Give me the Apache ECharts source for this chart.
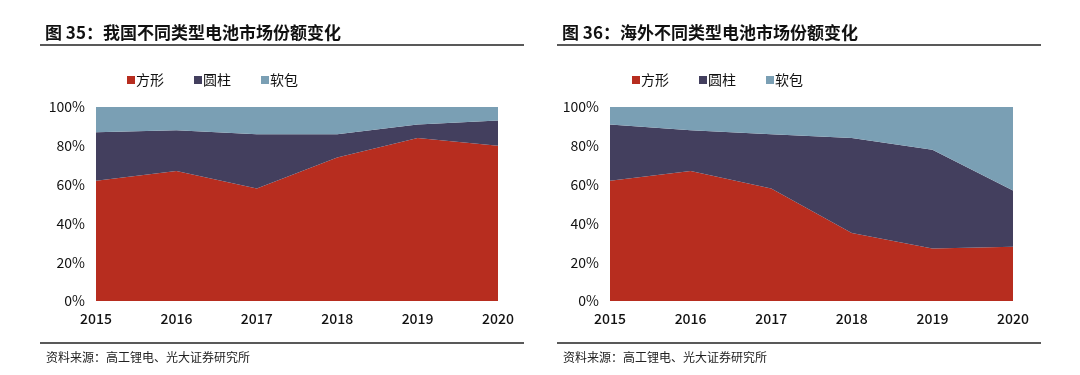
<!DOCTYPE html>
<html>
<head>
<meta charset="utf-8">
<script src="https://cdn.jsdelivr.net/npm/echarts@6/dist/echarts.min.js"></script>
<style>
  html, body { margin: 0; padding: 0; background: #fff; }
  #chart { width: 1080px; height: 375px; }
</style>
</head>
<body>
<div id="chart"></div>
<script>
// 数据
const years = ['2015', '2016', '2017', '2018', '2019', '2020'];
const seriesNames = ['方形', '圆柱', '软包'];
// 图35 我国
const cnSquare = [62, 67, 58, 74, 84, 80];
const cnCylinder = [25, 21, 28, 12, 7, 13];
const cnPouch = [13, 12, 14, 14, 9, 7];
// 图36 海外
const osSquare = [62, 67, 58, 35, 27, 28];
const osCylinder = [29, 21, 28, 49, 51, 29];
const osPouch = [9, 12, 14, 16, 22, 43];
const yTicks = [0, 20, 40, 60, 80, 100];

const colors = ['#B72D1F', '#433F5E', '#7A9FB4'];
const font = '"Noto Sans CJK SC", "Noto Sans", sans-serif';

const myChart = echarts.init(document.getElementById('chart'));

function makeSeries(idx, data) {
  return data.map((d, i) => ({
    name: seriesNames[i],
    type: 'line',
    stack: 'total' + idx,
    xAxisIndex: idx,
    yAxisIndex: idx,
    symbol: 'none',
    lineStyle: { width: 0 },
    areaStyle: { color: colors[i], opacity: 1 },
    itemStyle: { color: colors[i] },
    data: d
  }));
}

function xAxis(idx) {
  return {
    type: 'category',
    gridIndex: idx,
    boundaryGap: false,
    data: years,
    axisLine: { show: false },
    axisTick: { show: false },
    axisLabel: { color: '#111', fontSize: 14, fontWeight: 500, fontFamily: font, margin: 11 }
  };
}

function yAxis(idx) {
  return {
    type: 'value',
    gridIndex: idx,
    min: 0,
    max: 100,
    interval: 20,
    axisLine: { show: false },
    axisTick: { show: false },
    splitLine: { show: false },
    axisLabel: {
      color: '#111', fontSize: 14, fontFamily: font, margin: 11,
      formatter: v => (yTicks.indexOf(v) >= 0 ? v + '%' : '')
    }
  };
}

function legend(left) {
  return {
    left: left,
    top: 68,
    icon: 'rect',
    itemWidth: 8,
    itemHeight: 8,
    itemGap: 30,
    data: seriesNames,
    textStyle: { color: '#111', fontSize: 14, fontFamily: font, padding: [0, 0, 0, -4] }
  };
}

const option = {
  animation: false,
  title: [
    { text: '图 35：我国不同类型电池市场份额变化', left: 40, top: 19,
      textStyle: { fontSize: 17, fontWeight: 'bold', color: '#111', fontFamily: font } },
    { text: '图 36：海外不同类型电池市场份额变化', left: 557, top: 19,
      textStyle: { fontSize: 17, fontWeight: 'bold', color: '#111', fontFamily: font } },
    { text: '资料来源：高工锂电、光大证券研究所', left: 41, top: 346,
      textStyle: { fontSize: 12, fontWeight: 'normal', color: '#222', fontFamily: font } },
    { text: '资料来源：高工锂电、光大证券研究所', left: 558, top: 346,
      textStyle: { fontSize: 12, fontWeight: 'normal', color: '#222', fontFamily: font } }
  ],
  legend: [legend(122), legend(627)],
  grid: [
    { left: 96, top: 107, width: 402, height: 194 },
    { left: 610, top: 107, width: 403, height: 194 }
  ],
  xAxis: [xAxis(0), xAxis(1)],
  yAxis: [yAxis(0), yAxis(1)],
  graphic: [
    { type: 'line', shape: { x1: 40, y1: 45, x2: 524, y2: 45 }, style: { stroke: '#222', lineWidth: 1.5 } },
    { type: 'line', shape: { x1: 557, y1: 45, x2: 1041, y2: 45 }, style: { stroke: '#222', lineWidth: 1.5 } },
    { type: 'line', shape: { x1: 40, y1: 343, x2: 524, y2: 343 }, style: { stroke: '#222', lineWidth: 1.5 } },
    { type: 'line', shape: { x1: 557, y1: 343, x2: 1041, y2: 343 }, style: { stroke: '#222', lineWidth: 1.5 } }
  ],
  series: [
    ...makeSeries(0, [cnSquare, cnCylinder, cnPouch]),
    ...makeSeries(1, [osSquare, osCylinder, osPouch])
  ]
};

myChart.setOption(option);
window.addEventListener('resize', myChart.resize);
</script>
</body>
</html>
